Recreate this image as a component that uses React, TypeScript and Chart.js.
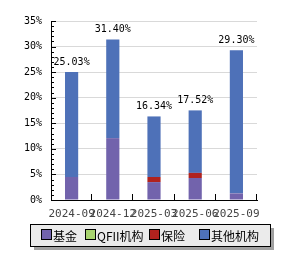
import React, { useEffect, useRef } from "react";
import { Chart, registerables } from "chart.js";

Chart.register(...registerables);

const categories = ["2024-09", "2024-12", "2025-03", "2025-06", "2025-09"];
const totals = [25.03, 31.4, 16.34, 17.52, 29.3];
const fund = [4.5, 12.1, 3.5, 4.3, 1.3];
const qfii = [0, 0, 0, 0, 0];
const insurance = [0, 0, 1.0, 1.0, 0];
const others = [20.53, 19.3, 11.84, 12.22, 28.0];
const yTicks = [0, 5, 10, 15, 20, 25, 30, 35];

const seriesNames = ["基金", "QFII机构", "保险", "其他机构"];
const seriesColors = ["#7263ac", "#a8d46f", "#b0221e", "#4e71b8"];

const MONO = "'DejaVu Sans Mono', monospace";
const CJK = "'Noto Sans CJK SC', sans-serif";

const decorPlugin = {
  id: "decor",
  afterDraw(chart: any) {
    const ctx = chart.ctx;
    const { left, right, bottom, top } = chart.chartArea;
    const y = chart.scales.y;
    const x = chart.scales.x;
    ctx.save();
    ctx.strokeStyle = "#000";
    ctx.lineWidth = 1;
    // y ticks (major and minor) drawn inward
    for (let v = 0; v <= 35; v += 1) {
      const py = Math.round(y.getPixelForValue(v)) + 0.5;
      const len = v % 5 === 0 ? 5 : 3;
      ctx.beginPath();
      ctx.moveTo(left, py);
      ctx.lineTo(left + len, py);
      ctx.stroke();
    }
    // x ticks at category boundaries
    const n = categories.length;
    const step = (right - left) / n;
    for (let i = 1; i <= n; i++) {
      const px = Math.round(left + step * i) - 0.5;
      ctx.beginPath();
      ctx.moveTo(px, bottom);
      ctx.lineTo(px, bottom - 6);
      ctx.stroke();
    }
    // value labels
    ctx.fillStyle = "#000";
    ctx.font = "10px " + MONO;
    ctx.textAlign = "center";
    ctx.textBaseline = "middle";
    totals.forEach((t, i) => {
      const px = x.getPixelForValue(i);
      const py = y.getPixelForValue(t);
      ctx.fillText(t.toFixed(2) + "%", px, py - 10);
    });
    // legend
    const lx = 30, ly = 224, lw = 240, lh = 22;
    ctx.fillStyle = "#a0a0a0";
    ctx.fillRect(lx + 4, ly + 4, lw, lh);
    ctx.fillStyle = "#ebebeb";
    ctx.fillRect(lx, ly, lw, lh);
    ctx.strokeStyle = "#000";
    ctx.strokeRect(lx + 0.5, ly + 0.5, lw, lh);
    const itemX = [41, 85, 149, 199];
    ctx.textAlign = "left";
    ctx.textBaseline = "middle";
    seriesNames.forEach((name, i) => {
      const bx = itemX[i];
      ctx.fillStyle = seriesColors[i];
      ctx.fillRect(bx, ly + 5, 11, 11);
      ctx.strokeStyle = "#000";
      ctx.strokeRect(bx + 0.5, ly + 5.5, 10, 10);
      ctx.fillStyle = "#000";
      ctx.font = "12px " + CJK;
      ctx.fillText(name, bx + 12, ly + 12);
    });
    ctx.restore();
  },
};

export default function App() {
  const ref = useRef<HTMLCanvasElement | null>(null);
  useEffect(() => {
    document.body.style.margin = "0";
    const canvas = ref.current!;
    const chart = new Chart(canvas, {
      type: "bar",
      data: {
        labels: categories,
        datasets: [
          { label: seriesNames[0], data: fund, backgroundColor: seriesColors[0] },
          { label: seriesNames[1], data: qfii, backgroundColor: seriesColors[1] },
          { label: seriesNames[2], data: insurance, backgroundColor: seriesColors[2] },
          { label: seriesNames[3], data: others, backgroundColor: seriesColors[3] },
        ].map((d) => ({ ...d, barPercentage: 0.32, categoryPercentage: 1, borderWidth: 0 })),
      },
      options: {
        responsive: false,
        animation: false,
        layout: { padding: { top: 21, right: 43, left: 0, bottom: 0 } },
        plugins: { legend: { display: false }, tooltip: { enabled: false } },
        scales: {
          x: {
            stacked: true,
            grid: { display: false, drawTicks: false },
            border: { display: true, color: "#000", width: 1 },
            ticks: {
              autoSkip: false,
              maxRotation: 0,
              minRotation: 0,
              padding: 8,
              color: "#444",
              font: { family: MONO, size: 11 },
            },
            afterFit: (s: any) => {
              s.height = 60;
            },
          },
          y: {
            stacked: true,
            min: 0,
            max: 35,
            afterBuildTicks: (s: any) => {
              s.ticks = yTicks.map((v) => ({ value: v }));
            },
            grid: { color: "#d9d9d9", drawTicks: false },
            border: { display: true, color: "#000", width: 1 },
            ticks: {
              padding: 9,
              color: "#000",
              font: { family: MONO, size: 10 },
              callback: (v: any) => v + "%",
            },
            afterFit: (s: any) => {
              s.width = 51;
            },
          },
        },
      },
      plugins: [decorPlugin],
    });
    return () => chart.destroy();
  }, []);
  return <canvas ref={ref} width={300} height={260} style={{ display: "block" }} />;
}
